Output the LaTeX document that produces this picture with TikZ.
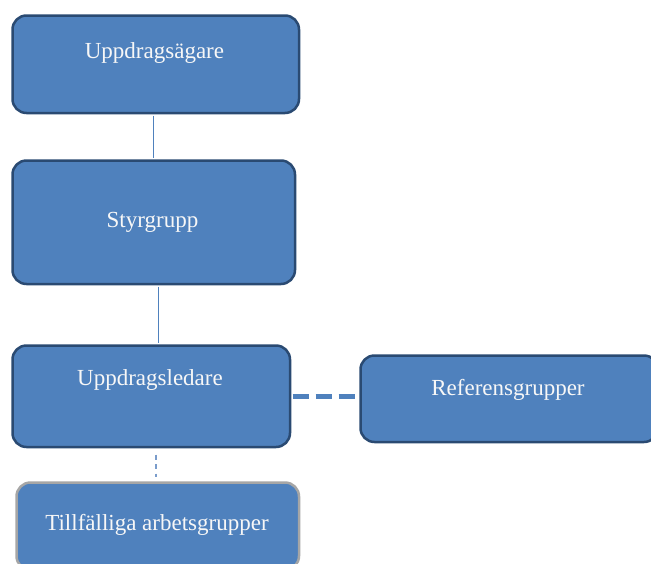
\documentclass[tikz,border=0pt]{standalone}
\usepackage{fontspec}
\setmainfont{Liberation Serif}
\definecolor{boxfill}{HTML}{4F81BD}
\definecolor{boxborder}{HTML}{2A4A72}
\definecolor{grayborder}{HTML}{A6A6A6}
\definecolor{connblue}{HTML}{4F81BD}
\definecolor{dotblue}{HTML}{7A9CCB}
\definecolor{txtwhite}{HTML}{F7F7F7}
\begin{document}
\begin{tikzpicture}[x=1pt,y=-1pt,
  box/.style={draw=boxborder, line width=2.5pt, fill=boxfill, rounded corners=14pt,
    rectangle, inner sep=0pt, anchor=north west},
  lbl/.style={text=txtwhite, font=\fontsize{23}{27}\selectfont, anchor=base, inner sep=0pt},
  conn/.style={draw=connblue, line width=1.5pt},
  refline/.style={draw=connblue, line width=5pt, dash pattern=on 16pt off 7pt},
  dotline/.style={draw=dotblue, line width=2pt, dash pattern=on 5pt off 4.5pt}]
\useasboundingbox (0,0) rectangle (651,563);
\fill[white] (0,0) rectangle (651,563);
\clip (0,0) rectangle (651,563);
% boxes
\node[box, minimum width=286.5pt, minimum height=97.5pt] (b1) at (11.25,14.25) {};
\node[box, minimum width=282.5pt, minimum height=123.5pt] (b2) at (11.25,159.25) {};
\node[box, minimum width=277.5pt, minimum height=101.5pt] (b3) at (11.25,344.25) {};
\node[box, minimum width=297.5pt, minimum height=86.5pt] (b4) at (359.25,354.25) {};
\node[box, draw=grayborder, minimum width=282.5pt, minimum height=87.5pt] (b5) at (15.25,481.25) {};
% labels
\node[lbl] (t1) at (154.5,58) {Uppdragsägare};
\node[lbl] (t2) at (152.5,227) {Styrgrupp};
\node[lbl] (t3) at (150,385) {Uppdragsledare};
\node[lbl] (t4) at (508,395) {Referensgrupper};
\node[lbl] (t5) at (157,530.5) {Tillfälliga arbetsgrupper};
% connectors
\draw[conn, shorten <=1.25pt, shorten >=1.25pt] ([xshift=-2.5pt]b1.south) -- ([xshift=-2.5pt]b1.south |- b2.north);
\draw[conn, shorten <=1.25pt, shorten >=1.25pt] ([xshift=4.5pt]b2.south) -- ([xshift=4.5pt]b2.south |- b3.north);
\draw[refline, shorten <=1.25pt, shorten >=1.25pt] (b3.east) -- (b3.east -| b4.west);
\draw[dotline, shorten <=6.25pt, shorten >=4.25pt] ([xshift=5pt]b3.south) -- ([xshift=5pt]b3.south |- b5.north);
\end{tikzpicture}
\end{document}
